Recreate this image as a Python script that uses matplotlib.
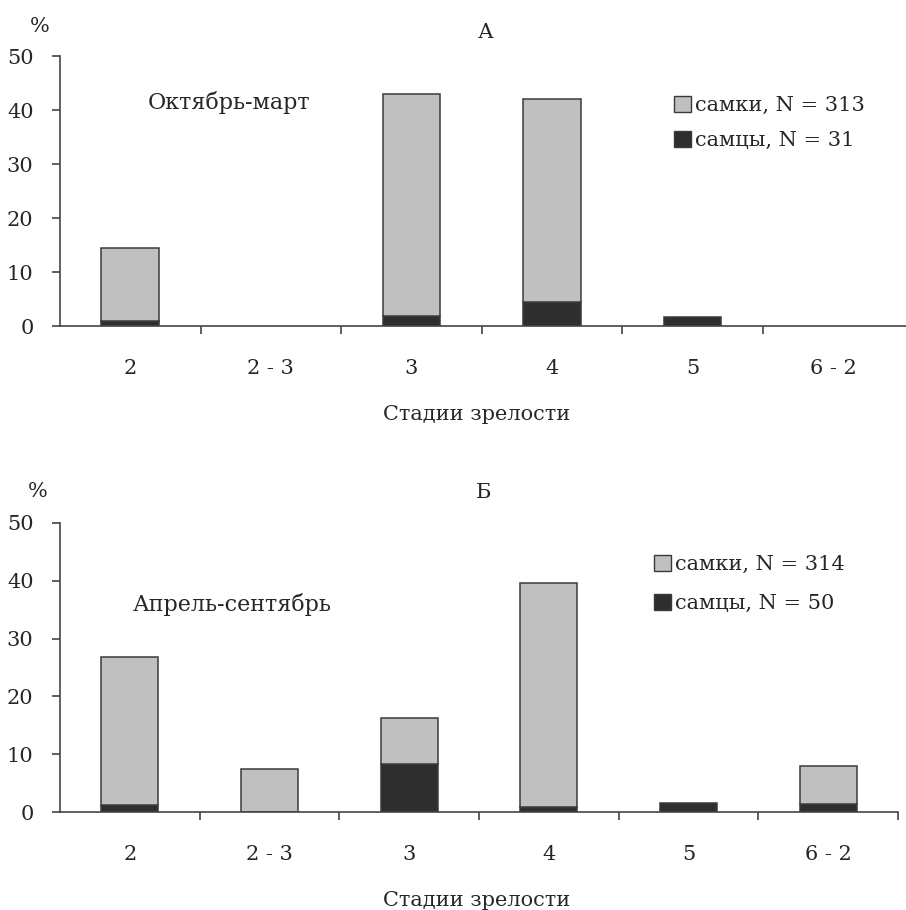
import numpy as np
import matplotlib
matplotlib.use("Agg")
import matplotlib.pyplot as plt
from matplotlib.patches import Patch

plt.rcParams['font.family'] = ['DejaVu Serif']
plt.rcParams['text.color'] = '#262626'

stages = ['2', '2 - 3', '3', '4', '5', '6 - 2']

# panel A (October - March), %
females_a = [13.5, 0, 41.1, 37.7, 0, 0]
males_a = [0.9, 0, 1.8, 4.4, 1.7, 0]
# panel B (April - September), %
females_b = [25.7, 7.5, 8.0, 38.8, 0, 6.6]
males_b = [1.2, 0, 8.3, 0.9, 1.5, 1.4]

labels_a = ['самки, N = 313', 'самцы, N = 31']
labels_b = ['самки, N = 314', 'самцы, N = 50']

W, H = 906, 910
c_fem = '#c0c0c0'
c_male = '#2e2e2e'
c_edge = '#3a3a3a'
c_axis = '#444444'
c_txt = '#262626'
fs = 15

def fx(px): return px / W
def fy(py): return 1 - py / H

fig = plt.figure(figsize=(W / 100, H / 100), dpi=100)
fig.patch.set_facecolor('white')


def panel(rect, females, males, xmax, end_tick, legend_labels, leg_xy, spacing):
    ax = fig.add_axes(rect)
    x = np.arange(len(stages))
    lw_m = [1.1 if v > 0 else 0 for v in males]
    lw_f = [1.1 if v > 0 else 0 for v in females]
    ax.bar(x, males, width=0.41, color=c_male, edgecolor=c_edge, linewidth=lw_m, zorder=3)
    ax.bar(x, females, bottom=males, width=0.41, color=c_fem, edgecolor=c_edge,
           linewidth=lw_f, zorder=3)
    ax.set_xlim(-0.5, xmax)
    ax.set_ylim(0, 50)
    for s in ['top', 'right']:
        ax.spines[s].set_visible(False)
    for s in ['left', 'bottom']:
        ax.spines[s].set_color(c_axis)
        ax.spines[s].set_linewidth(1.2)
        ax.spines[s].set_zorder(4)
    ax.set_yticks(range(0, 51, 10))
    ax.tick_params(axis='y', direction='out', length=6, width=1.2, color=c_axis,
                   pad=13, labelsize=fs, labelcolor=c_txt)
    ax.set_xticks(x)
    ax.set_xticklabels(stages)
    ax.tick_params(axis='x', which='major', length=0, pad=24, labelsize=fs,
                   labelcolor=c_txt)
    minor = np.arange(0.5, 5.6 if end_tick else 5.0, 1.0)
    ax.set_xticks(minor, minor=True)
    ax.tick_params(axis='x', which='minor', direction='out', length=6, width=1.2,
                   color=c_axis)
    ax.patch.set_alpha(0)

    handles = [Patch(facecolor=c_fem, edgecolor=c_edge, linewidth=1.0),
               Patch(facecolor=c_male, edgecolor=c_edge, linewidth=1.0)]
    ax.legend(handles, legend_labels, loc='upper left',
              bbox_to_anchor=(fx(leg_xy[0]), fy(leg_xy[1])), bbox_transform=fig.transFigure,
              frameon=False, fontsize=fs, handlelength=0.8, handleheight=0.8,
              handletextpad=0.2, labelspacing=spacing, borderpad=0, borderaxespad=0)
    return ax


panel([fx(60), fy(326), fx(906) - fx(60), fy(56) - fy(326)], females_a, males_a,
      5.52, False, labels_a, (674, 96), 0.75)
panel([fx(60), fy(812), fx(898) - fx(60), fy(523) - fy(812)], females_b, males_b,
      5.5, True, labels_b, (654, 555), 0.95)

# panel texts
fig.text(fx(40), fy(26), '%', fontsize=fs, ha='center', va='center')
fig.text(fx(486), fy(32), 'А', fontsize=fs, ha='center', va='center')
fig.text(fx(229), fy(102), 'Октябрь-март', fontsize=16, ha='center', va='center')
fig.text(fx(477), fy(415), 'Стадии зрелости', fontsize=fs, ha='center', va='center')

fig.text(fx(38), fy(492), '%', fontsize=fs, ha='center', va='center')
fig.text(fx(484), fy(493), 'Б', fontsize=fs, ha='center', va='center')
fig.text(fx(232), fy(604), 'Апрель-сентябрь', fontsize=16, ha='center', va='center')
fig.text(fx(477), fy(900), 'Стадии зрелости', fontsize=fs, ha='center', va='center')

fig.savefig('out.png', dpi=100, facecolor='white')
